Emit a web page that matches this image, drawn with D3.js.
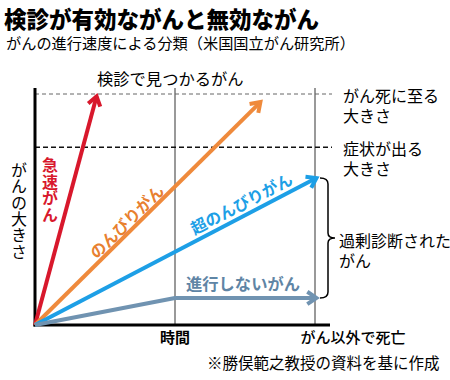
<!DOCTYPE html>
<html>
<head>
<meta charset="utf-8">
<script src="https://d3js.org/d3.v7.min.js"></script>
<style>
  html, body { margin: 0; padding: 0; background: #fff; }
  svg { display: block; font-family: "Noto Sans CJK JP", "Noto Sans", sans-serif; }
  .vert { writing-mode: vertical-rl; text-orientation: upright; }
</style>
</head>
<body>
<div id="chart"></div>
<script>
// time: 0 = start, 1 = 時間 marker, 2 = がん以外で死亡
// size: 0 = none, 77 = 症状が出る大きさ, 100 = がん死に至る大きさ
var seriesNames = ["急速がん", "のんびりがん", "超のんびりがん", "進行しないがん"];
var seriesColors = ["#d8182c", "#ef8a3c", "#1d9fe6", "#7093b1"];
var seriesPoints = [
    [[0, 0], [0.44, 99]],
    [[0, 0], [1.61, 96.5]],
    [[0, 0], [2.01, 63.6]],
    [[0, 0], [1.0, 11.7], [2.01, 11.7]]
];
var levels = [100, 77];
var levelLabels = [["がん死に至る", "大きさ"], ["症状が出る", "大きさ"]];
var timeMarks = [1, 2];
var timeLabels = ["時間", "がん以外で死亡"];

var width = 450, height = 380;
var svg = d3.select("#chart").append("svg")
    .attr("width", width).attr("height", height);

var x = d3.scaleLinear().domain([0, 2]).range([35, 315]);
var y = d3.scaleLinear().domain([0, 100]).range([325, 94]);

// titles
svg.append("text").attr("x", 4).attr("y", 18)
    .attr("dominant-baseline", "central")
    .attr("font-size", 22.5).attr("font-weight", 900)
    .text("検診が有効ながんと無効ながん");
svg.append("text").attr("x", 6).attr("y", 42)
    .attr("dominant-baseline", "central")
    .attr("font-size", 15.2)
    .text("がんの進行速度による分類（米国国立がん研究所）");
svg.append("text").attr("x", 97).attr("y", 78)
    .attr("dominant-baseline", "central")
    .attr("font-size", 16.3)
    .text("検診で見つかるがん");

// time marker lines
svg.selectAll(".tmark").data(timeMarks).enter().append("line")
    .attr("x1", d => x(d)).attr("x2", d => x(d))
    .attr("y1", y(102.6)).attr("y2", y(0))
    .attr("stroke", "#999").attr("stroke-width", 2);

// dashed level lines
svg.append("line")
    .attr("x1", x(0)).attr("x2", 332).attr("y1", y(levels[0])).attr("y2", y(levels[0]))
    .attr("stroke", "#666").attr("stroke-width", 1).attr("stroke-dasharray", "4,3");
svg.append("line")
    .attr("x1", x(0)).attr("x2", 332).attr("y1", y(levels[1])).attr("y2", y(levels[1]))
    .attr("stroke", "#111").attr("stroke-width", 1.5).attr("stroke-dasharray", "5,3");

// axes (plain lines, no ticks)
svg.append("line").attr("x1", x(0)).attr("x2", x(0))
    .attr("y1", y(102.6)).attr("y2", y(0) + 1.5)
    .attr("stroke", "#000").attr("stroke-width", 3);
svg.append("line").attr("x1", x(0) - 1.5).attr("x2", 330)
    .attr("y1", y(0)).attr("y2", y(0))
    .attr("stroke", "#000").attr("stroke-width", 3);

// arrows
var line = d3.line().x(d => x(d[0])).y(d => y(d[1]));
seriesPoints.forEach(function(pts, i) {
    svg.append("path").attr("d", line(pts))
        .attr("fill", "none").attr("stroke", seriesColors[i])
        .attr("stroke-width", 4).attr("stroke-linejoin", "round");
    var a = pts[pts.length - 2], b = pts[pts.length - 1];
    var ang = Math.atan2(y(b[1]) - y(a[1]), x(b[0]) - x(a[0]));
    var tx = x(b[0]), ty = y(b[1]), L = 11, w = 0.6;
    var head = [
        [tx - L * Math.cos(ang - w), ty - L * Math.sin(ang - w)],
        [tx, ty],
        [tx - L * Math.cos(ang + w), ty - L * Math.sin(ang + w)]
    ];
    svg.append("path").attr("d", d3.line()(head))
        .attr("fill", "none").attr("stroke", seriesColors[i])
        .attr("stroke-width", 4).attr("stroke-linejoin", "miter")
        .attr("stroke-linecap", "butt");
});

// series labels
// 急速がん vertical
svg.append("text").attr("class", "vert")
    .attr("x", 50).attr("y", 157)
    .attr("font-size", 16).attr("font-weight", 700)
    .attr("letter-spacing", 0.5)
    .attr("fill", seriesColors[0]).text(seriesNames[0]);
function angleOf(p) {
    return Math.atan2(y(p[1][1]) - y(p[0][1]), x(p[1][0]) - x(p[0][0])) * 180 / Math.PI;
}
svg.append("text")
    .attr("transform", "translate(126,221) rotate(" + angleOf(seriesPoints[1]) + ")")
    .attr("text-anchor", "middle").attr("dominant-baseline", "central")
    .attr("font-size", 16).attr("font-weight", 700)
    .attr("fill", "#e8802f").text(seriesNames[1]);
svg.append("text")
    .attr("transform", "translate(241,203) rotate(" + angleOf(seriesPoints[2]) + ")")
    .attr("text-anchor", "middle").attr("dominant-baseline", "central")
    .attr("font-size", 16).attr("font-weight", 700)
    .attr("fill", seriesColors[2]).text(seriesNames[2]);
svg.append("text")
    .attr("x", 243).attr("y", 283)
    .attr("text-anchor", "middle").attr("dominant-baseline", "central")
    .attr("font-size", 16.3).attr("font-weight", 700)
    .attr("fill", "#5f85a5").text(seriesNames[3]);

// y axis label vertical
svg.append("text").attr("class", "vert")
    .attr("x", 19).attr("y", 162)
    .attr("font-size", 16).attr("letter-spacing", 0.3)
    .text("がんの大きさ");

// two-line label helper
function twoLines(xp, yp, lines) {
    var t = svg.append("text").attr("font-size", 16);
    lines.forEach(function(s, k) {
        t.append("tspan").attr("x", xp).attr("y", yp + k * 20)
            .attr("dominant-baseline", "central").text(s);
    });
}

// level labels
levelLabels.forEach(function(lines, i) {
    twoLines(343, y(levels[i]) + 1, lines);
});

// brace for overdiagnosed
var by0 = y(seriesPoints[2][1][1]), by1 = y(seriesPoints[3][2][1]), bm = (by0 + by1) / 2;
svg.append("path")
    .attr("d", "M320," + by0 + " Q328," + by0 + " 328," + (by0 + 6) +
        " L328," + (bm - 5) + " Q328," + bm + " 335," + bm +
        " Q328," + bm + " 328," + (bm + 5) +
        " L328," + (by1 - 6) + " Q328," + by1 + " 320," + by1)
    .attr("fill", "none").attr("stroke", "#000").attr("stroke-width", 1.5);
twoLines(339, bm + 2, ["過剰診断された", "がん"]);

// time labels
svg.append("text").attr("x", x(timeMarks[0])).attr("y", 336)
    .attr("text-anchor", "middle").attr("dominant-baseline", "central")
    .attr("font-size", 15).attr("font-weight", 700).text(timeLabels[0]);
svg.append("text").attr("x", 353).attr("y", 336)
    .attr("text-anchor", "middle").attr("dominant-baseline", "central")
    .attr("font-size", 15).attr("font-weight", 500).text(timeLabels[1]);

// source
svg.append("text").attr("x", 207).attr("y", 362)
    .attr("dominant-baseline", "central")
    .attr("font-size", 15.5).text("※勝俣範之教授の資料を基に作成");
</script>
</body>
</html>
